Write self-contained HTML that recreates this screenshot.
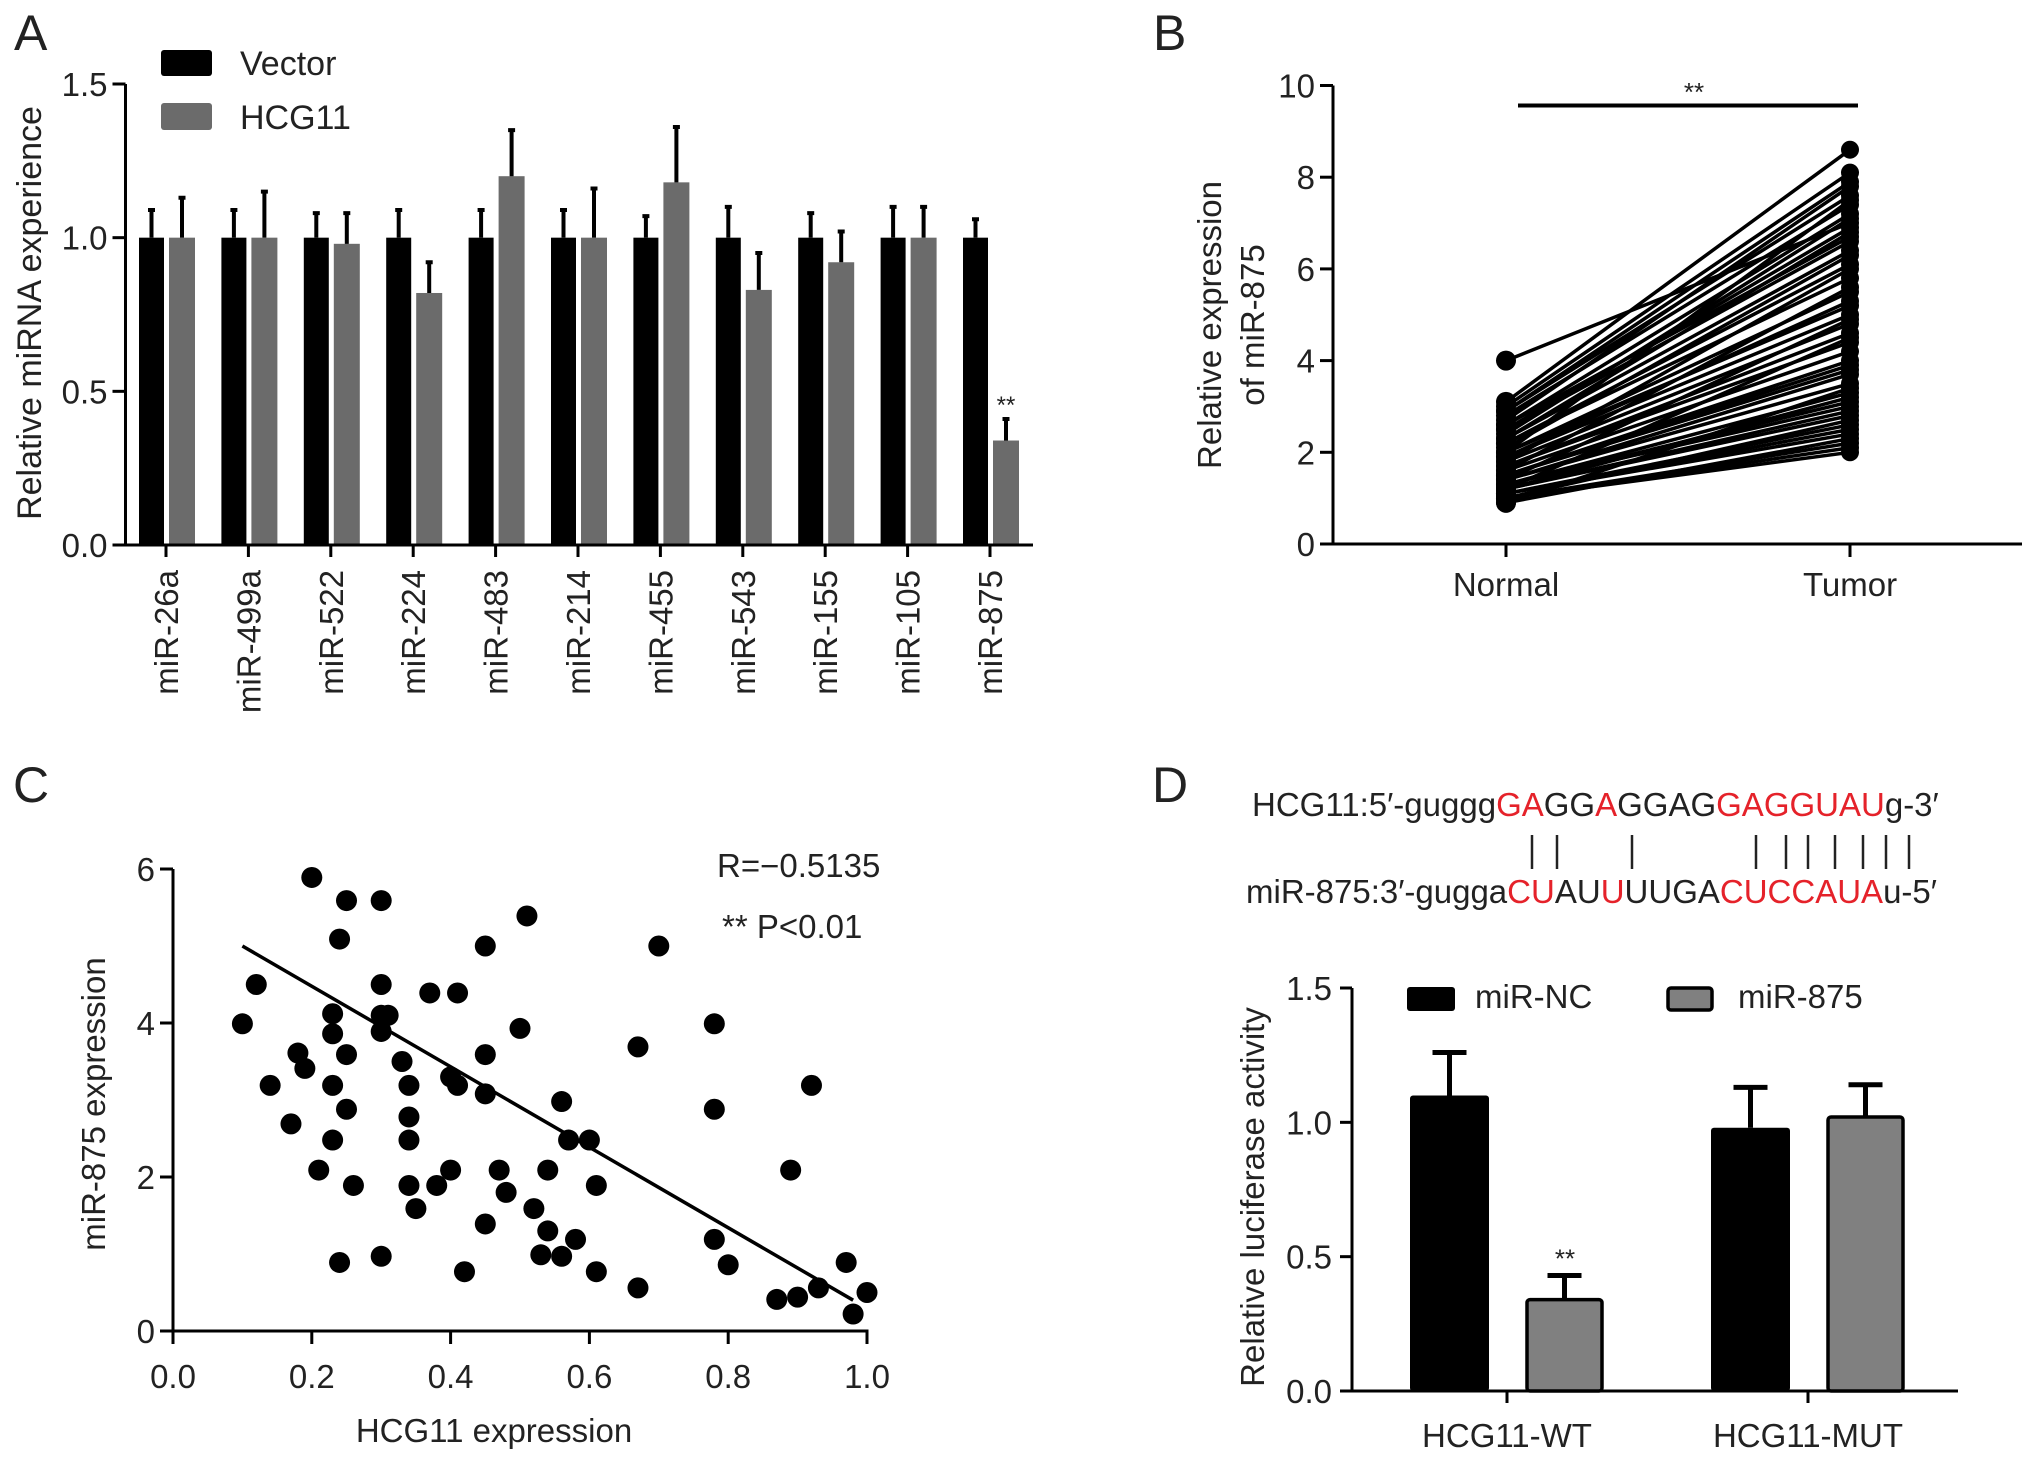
<!DOCTYPE html>
<html><head><meta charset="utf-8">
<style>
html,body{margin:0;padding:0;background:#fff;}
svg{display:block;font-family:"Liberation Sans",Arial,sans-serif;}
text{fill:#222;}
</style></head>
<body>
<svg id="fig" width="2032" height="1458" viewBox="0 0 2032 1458" xmlns="http://www.w3.org/2000/svg">
<g id="pA"></g>
<g id="pB"></g>
<g id="pC"></g>
<g id="pD"></g>
</svg>
<script>
// ---------- Panel A data ----------
const aCategories = ["miR-26a","miR-499a","miR-522","miR-224","miR-483","miR-214","miR-455","miR-543","miR-155","miR-105","miR-875"];
const aVector = [1,1,1,1,1,1,1,1,1,1,1];
const aVectorErr = [0.09,0.09,0.08,0.09,0.09,0.09,0.07,0.10,0.08,0.10,0.06];
const aHCG11 = [1.0,1.0,0.98,0.82,1.2,1.0,1.18,0.83,0.92,1.0,0.34];
const aHCG11Err = [0.13,0.15,0.10,0.10,0.15,0.16,0.18,0.12,0.10,0.10,0.07];
const aYTicks = ["0.0","0.5","1.0","1.5"];
// ---------- Panel B data ----------
const bNormal = [4.0,3.1,3.0,2.9,2.9,2.8,2.7,2.6,2.5,2.5,2.4,2.3,2.3,2.2,2.2,2.1,2.0,2.0,1.9,1.9,1.8,1.8,1.7,1.7,1.6,1.6,1.5,1.5,1.4,1.4,1.4,1.3,1.3,1.3,1.2,1.2,1.2,1.1,1.1,1.1,1.0,1.0,1.0,0.9,0.9,2.6,2.0,1.5,1.2,1.0];
const bTumor = [7.0,8.6,8.1,7.9,7.6,7.4,7.8,7.2,6.9,6.6,7.1,6.4,6.8,6.1,5.8,6.3,5.5,7.5,5.3,5.0,4.8,6.0,4.6,4.4,4.2,5.6,4.0,3.8,3.7,3.5,4.9,3.3,3.1,3.0,2.9,2.8,4.5,2.6,2.5,2.4,2.2,2.1,2.0,3.4,2.3,6.7,5.2,3.9,3.2,2.7];
const bCategories = ["Normal","Tumor"];
const bYTicks = ["0","2","4","6","8","10"];
// ---------- Panel C data ----------
const cX = [0.2,0.25,0.30,0.24,0.51,0.45,0.70,0.12,0.30,0.37,0.41,0.10,0.23,0.30,0.31,0.30,0.23,0.50,0.78,0.18,0.25,0.45,0.67,0.19,0.33,0.40,0.41,0.14,0.23,0.34,0.45,0.92,0.56,0.25,0.78,0.17,0.34,0.23,0.34,0.57,0.60,0.21,0.40,0.47,0.54,0.89,0.26,0.34,0.38,0.61,0.48,0.35,0.52,0.45,0.54,0.58,0.78,0.53,0.56,0.24,0.30,0.80,0.97,0.42,0.61,0.67,0.93,0.87,0.90,1.0,0.98];
const cY = [5.89,5.59,5.59,5.09,5.39,5.0,5.0,4.5,4.5,4.39,4.39,3.99,4.12,4.1,4.1,3.89,3.86,3.93,3.99,3.61,3.59,3.59,3.69,3.41,3.5,3.3,3.19,3.19,3.19,3.19,3.08,3.19,2.98,2.88,2.88,2.69,2.78,2.48,2.48,2.48,2.48,2.09,2.09,2.09,2.09,2.09,1.89,1.89,1.89,1.89,1.8,1.59,1.59,1.39,1.3,1.19,1.19,0.99,0.97,0.89,0.97,0.86,0.89,0.77,0.77,0.56,0.56,0.41,0.44,0.5,0.22];
const cFit = [[0.1,5.0],[0.98,0.4]];
const cXTicks = ["0.0","0.2","0.4","0.6","0.8","1.0"];
const cYTicks = ["0","2","4","6"];
// ---------- Panel D data ----------
const dCategories = ["HCG11-WT","HCG11-MUT"];
const dNC = [1.1,0.98];
const dNCErr = [0.16,0.15];
const d875 = [0.34,1.02];
const d875Err = [0.09,0.12];
const dYTicks = ["0.0","0.5","1.0","1.5"];

const NS="http://www.w3.org/2000/svg";
function mk(parent,tag,attrs,txt){const e=document.createElementNS(NS,tag);for(const k in attrs)e.setAttribute(k,attrs[k]);if(txt!==undefined)e.textContent=txt;parent.appendChild(e);return e;}

// ===== Panel A =====
(function(){
 const g=document.getElementById('pA');
 const x0=125.5,x1=1033,y0=545,yTop=84;
 const yS=v=>y0-(v/1.5)*(y0-yTop);
 const xC=i=>166+i*82.4;
 let t=mk(g,'text',{x:14,y:50,'font-size':50});t.textContent='A';
 
 
 aCategories.forEach((c,i)=>{
  const cx=xC(i);
  let r=mk(g,'rect',{x:cx-27,y:yS(aVector[i]),width:25,height:y0-yS(aVector[i]),fill:'#000'});
  
  
  let e=mk(g,'path',{d:`M${cx-14.5} ${yS(aVector[i])}V${yS(aVector[i]+aVectorErr[i])}M${cx-18} ${yS(aVector[i]+aVectorErr[i])}H${cx-11}`,stroke:'#000','stroke-width':4,fill:'none'});
  
  
  let r2=mk(g,'rect',{x:cx+3,y:yS(aHCG11[i]),width:26,height:y0-yS(aHCG11[i]),fill:'#6b6b6b'});
  
  
  let e2=mk(g,'path',{d:`M${cx+16} ${yS(aHCG11[i])}V${yS(aHCG11[i]+aHCG11Err[i])}M${cx+12.5} ${yS(aHCG11[i]+aHCG11Err[i])}H${cx+19.5}`,stroke:'#000','stroke-width':4,fill:'none'});
  
  
  mk(g,'line',{x1:cx,y1:y0,x2:cx,y2:y0+12,stroke:'#000','stroke-width':3});
  let l=mk(g,'text',{x:0,y:0,'font-size':33,'text-anchor':'end',transform:`translate(${cx+12},${y0+25}) rotate(-90)`},c);
  
  
 });
 mk(g,'line',{x1:x0,y1:yTop,x2:x0,y2:y0+1.5,stroke:'#000','stroke-width':3});
 mk(g,'line',{x1:x0-1.5,y1:y0,x2:x1,y2:y0,stroke:'#000','stroke-width':3});
 aYTicks.forEach(s=>{const v=parseFloat(s);mk(g,'line',{x1:x0-13,y1:yS(v),x2:x0,y2:yS(v),stroke:'#000','stroke-width':3});
  let tt=mk(g,'text',{x:x0-18,y:yS(v)+12,'font-size':33,'text-anchor':'end'},s);
  
  });
 let yt=mk(g,'text',{x:0,y:0,'font-size':34,'text-anchor':'middle',transform:`translate(41,313) rotate(-90)`},'Relative miRNA experience');
 
 
 let s=mk(g,'text',{x:xC(10)+16,y:yS(aHCG11[10]+aHCG11Err[10])-6,'font-size':24,'text-anchor':'middle'},'**');
 
 
 let lg=mk(g,'g',{});
 
 
 mk(lg,'rect',{x:161,y:50,width:51,height:26,rx:3,fill:'#000'});
 mk(lg,'text',{x:240,y:75,'font-size':34},'Vector');
 mk(lg,'rect',{x:161,y:103,width:51,height:27,rx:3,fill:'#6b6b6b'});
 mk(lg,'text',{x:240,y:129,'font-size':34},'HCG11');
})();

// ===== Panel B =====
(function(){
 const g=document.getElementById('pB');
 const x0=1333,y0=544,yTop=85.5;
 const yS=v=>y0-(v/10)*(y0-yTop);
 const xs=[1506,1850];
 let t=mk(g,'text',{x:1153,y:50,'font-size':50},'B');
 
 
 bNormal.forEach((n,i)=>{
  let l=mk(g,'line',{x1:xs[0],y1:yS(n),x2:xs[1],y2:yS(bTumor[i]),stroke:'#000','stroke-width':3.5});
  
  
 });
 bNormal.forEach((n,i)=>{
  let c1=mk(g,'circle',{cx:xs[0],cy:yS(n),r:10,fill:'#000'});
  
  
  let c2=mk(g,'circle',{cx:xs[1],cy:yS(bTumor[i]),r:9,fill:'#000'});
  
  
 });
 mk(g,'line',{x1:x0,y1:yTop,x2:x0,y2:y0,stroke:'#000','stroke-width':3});
 mk(g,'line',{x1:1324,y1:y0,x2:2022,y2:y0,stroke:'#000','stroke-width':3});
 bYTicks.forEach(s=>{const v=parseFloat(s);mk(g,'line',{x1:x0-13,y1:yS(v),x2:x0,y2:yS(v),stroke:'#000','stroke-width':3});
  let tt=mk(g,'text',{x:x0-18,y:yS(v)+12,'font-size':33,'text-anchor':'end'},s);
  
  });
 bCategories.forEach((c,i)=>{mk(g,'line',{x1:xs[i],y1:y0,x2:xs[i],y2:y0+13,stroke:'#000','stroke-width':3});
  let tt=mk(g,'text',{x:xs[i],y:596,'font-size':33,'text-anchor':'middle'},c);
  
  });
 let br=mk(g,'line',{x1:1518,y1:105.5,x2:1858,y2:105.5,stroke:'#000','stroke-width':4});
 
 
 let st=mk(g,'text',{x:1694,y:101,'font-size':26,'text-anchor':'middle'},'**');
 
 
 let yt=mk(g,'text',{x:0,y:0,'font-size':33,'text-anchor':'middle',transform:'translate(1221,325) rotate(-90)'},'Relative expression');
 
 
 let yt2=mk(g,'text',{x:0,y:0,'font-size':33,'text-anchor':'middle',transform:'translate(1264,325) rotate(-90)'},'of miR-875');
 
 
})();

// ===== Panel C =====
(function(){
 const g=document.getElementById('pC');
 const x0=173,x1=867,y0=1331,yTop=869;
 const xS=v=>x0+v*(x1-x0);
 const yS=v=>y0-(v/6)*(y0-yTop);
 let t=mk(g,'text',{x:13,y:802,'font-size':50},'C');
 
 
 cX.forEach((x,i)=>{
  let c=mk(g,'circle',{cx:xS(x),cy:yS(cY[i]),r:10.5,fill:'#000'});
  
  
 });
 let fl=mk(g,'line',{x1:xS(cFit[0][0]),y1:yS(cFit[0][1]),x2:xS(cFit[1][0]),y2:yS(cFit[1][1]),stroke:'#000','stroke-width':3.5});
 
 
 mk(g,'line',{x1:x0,y1:yTop,x2:x0,y2:y0+13,stroke:'#000','stroke-width':3});
 mk(g,'line',{x1:x0-13,y1:y0,x2:x1+1.5,y2:y0,stroke:'#000','stroke-width':3});
 cYTicks.forEach(s=>{const v=parseFloat(s);mk(g,'line',{x1:x0-13,y1:yS(v),x2:x0,y2:yS(v),stroke:'#000','stroke-width':3});
  let tt=mk(g,'text',{x:x0-18,y:yS(v)+12,'font-size':33,'text-anchor':'end'},s);
  
  });
 cXTicks.forEach(s=>{const v=parseFloat(s);mk(g,'line',{x1:xS(v),y1:y0,x2:xS(v),y2:y0+13,stroke:'#000','stroke-width':3});
  let tt=mk(g,'text',{x:xS(v),y:1388,'font-size':33,'text-anchor':'middle'},s);
  
  });
 let xt=mk(g,'text',{x:494,y:1442,'font-size':33,'text-anchor':'middle'},'HCG11 expression');
 
 
 let yt=mk(g,'text',{x:0,y:0,'font-size':33,'text-anchor':'middle',transform:'translate(105,1104) rotate(-90)'},'miR-875 expression');
 
 
 let r=mk(g,'text',{x:717,y:877,'font-size':33},'R=\u22120.5135');
 
 
 let p=mk(g,'text',{x:722,y:938,'font-size':33},'** P<0.01');
 
 
})();

// ===== Panel D =====
(function(){
 const g=document.getElementById('pD');
 const x0=1352,y0=1391,yTop=988;
 const yS=v=>y0-(v/1.5)*(y0-yTop);
 const xs=[1507,1808];
 let t=mk(g,'text',{x:1152,y:802,'font-size':50},'D');
 
 
 let s1=mk(g,'text',{x:1252,y:816,'font-size':33});
 
 
 s1.innerHTML='HCG11:5\u2032-guggg<tspan fill="#e5222a">GA</tspan>GG<tspan fill="#e5222a">A</tspan>GGAG<tspan fill="#e5222a">GAGGUAU</tspan>g-3\u2032';
 let s2=mk(g,'text',{x:1246,y:903,'font-size':33});
 
 
 s2.innerHTML='miR-875:3\u2032-gugga<tspan fill="#e5222a">CU</tspan>AU<tspan fill="#e5222a">U</tspan>UUGA<tspan fill="#e5222a">CUCCAUA</tspan>u-5\u2032';
 let pairs=mk(g,'path',{d:[1532,1557,1632,1756,1786,1808,1835,1863,1886,1909].map(x=>`M${x} 835V869`).join(''),stroke:'#222','stroke-width':2.5});
 
 
 dCategories.forEach((c,i)=>{
  const cx=xs[i];
  const ebar=(bx,w,v,er,name,fill,stroke)=>{
   let ep=mk(g,'path',{d:`M${bx+w/2} ${yS(v)}V${yS(v+er)}M${bx+w/2-17} ${yS(v+er)}H${bx+w/2+17}`,stroke:'#000','stroke-width':5,fill:'none'});
   
   
   let r=mk(g,'rect',{x:bx,y:yS(v),width:w,height:y0-yS(v),rx:3,fill:fill,stroke:'#000','stroke-width':stroke});
   
   
  };
  ebar(cx-97,79,dNC[i],dNCErr[i],'mirnc','#000',0);
  ebar(cx+20,75,d875[i],d875Err[i],'mir875','#808080',3.5);
  mk(g,'line',{x1:cx,y1:y0,x2:cx,y2:y0+12,stroke:'#000','stroke-width':3});
  let tt=mk(g,'text',{x:cx,y:1447,'font-size':33,'text-anchor':'middle'},c);
  
  
 });
 mk(g,'line',{x1:x0,y1:yTop,x2:x0,y2:y0,stroke:'#000','stroke-width':3});
 mk(g,'line',{x1:1345,y1:y0,x2:1958,y2:y0,stroke:'#000','stroke-width':3});
 dYTicks.forEach(s=>{const v=parseFloat(s);mk(g,'line',{x1:x0-12,y1:yS(v),x2:x0,y2:yS(v),stroke:'#000','stroke-width':3});
  let tt=mk(g,'text',{x:x0-20,y:yS(v)+12,'font-size':33,'text-anchor':'end'},s);
  
  });
 let yt=mk(g,'text',{x:0,y:0,'font-size':33,'text-anchor':'middle',transform:'translate(1264,1197) rotate(-90)'},'Relative luciferase activity');
 
 
 let st=mk(g,'text',{x:1565,y:yS(d875[0]+d875Err[0])-8,'font-size':26,'text-anchor':'middle'},'**');
 
 
 let lg=mk(g,'g',{});
 
 
 mk(lg,'rect',{x:1407,y:987,width:48,height:24,rx:3,fill:'#000'});
 mk(lg,'text',{x:1475,y:1008,'font-size':33},'miR-NC');
 mk(lg,'rect',{x:1668,y:988,width:44,height:22,rx:3,fill:'#808080',stroke:'#000','stroke-width':3.5});
 mk(lg,'text',{x:1738,y:1008,'font-size':33},'miR-875');
})();
</script>
</body></html>
